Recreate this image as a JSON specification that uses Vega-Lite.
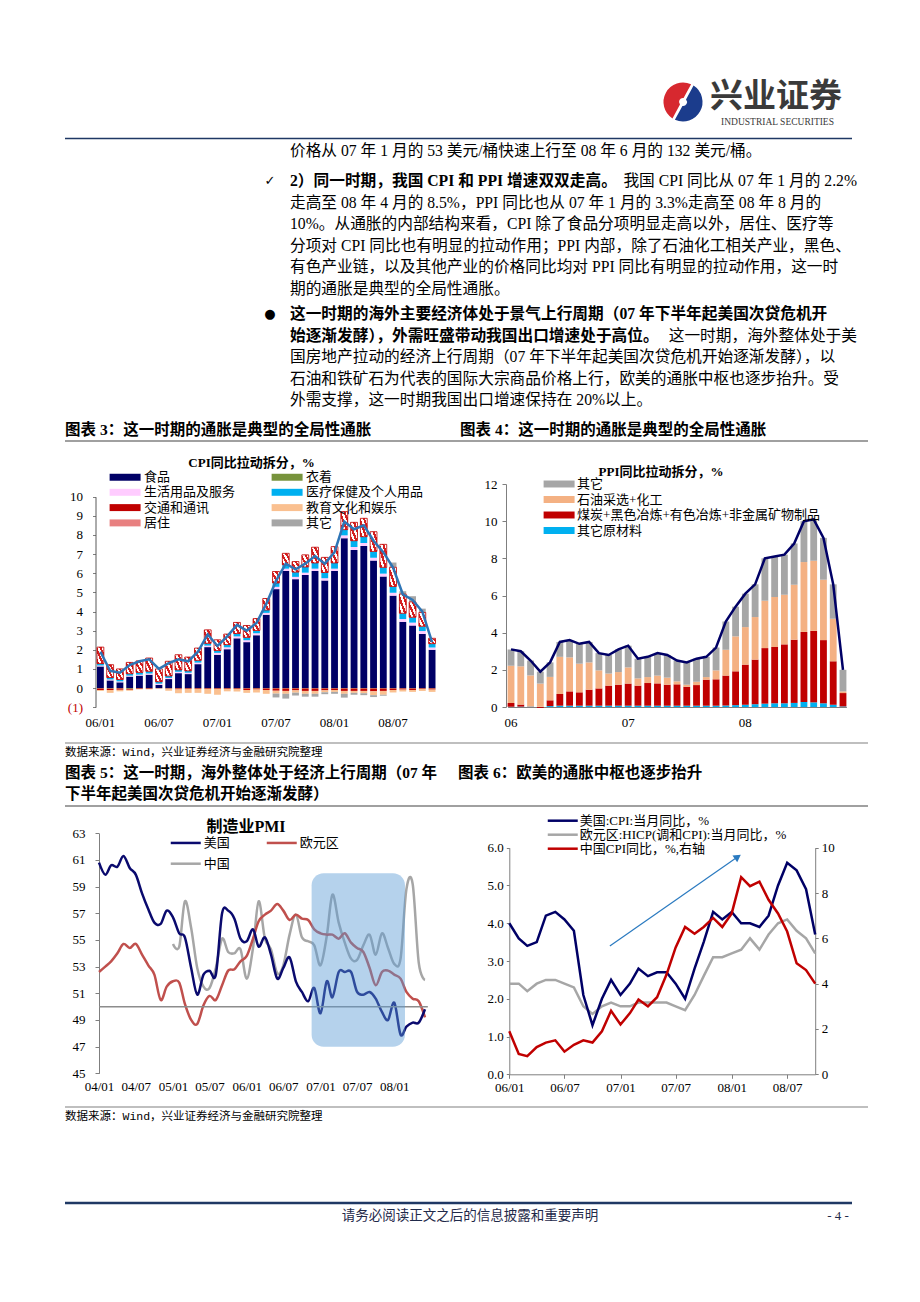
{
"$schema":"https://vega.github.io/schema/vega-lite/v6.json",
"width":920,"height":1302,"padding":0,"autosize":{"type":"none"},"background":"#ffffff",
"config":{"view":{"stroke":null},"font":"Liberation Serif, Noto Sans CJK SC",
"axis":{"grid":false,"title":null,"labelFont":"Liberation Serif, Noto Sans CJK SC","labelFontSize":13,"labelColor":"#000000","domainColor":"#7F7F7F","tickColor":"#7F7F7F","labelFlush":false,"labelOverlap":false},
"legend":{"padding":0,"labelFont":"Liberation Serif, Noto Sans CJK SC","labelFontSize":13,"labelColor":"#000000","labelLimit":400}},
"layer":[
{"data":{"values":[{}]},
"layer":[
{"mark":{"type":"rule","stroke":"#1F3864","strokeWidth":1.5},"encoding":{"x":{"value":65},"x2":{"value":852},"y":{"value":138.5}}},
{"mark":{"type":"rule","stroke":"#808080","strokeWidth":1.5},"encoding":{"x":{"value":65},"x2":{"value":868},"y":{"value":441}}},
{"mark":{"type":"rule","stroke":"#808080","strokeWidth":1.2},"encoding":{"x":{"value":65},"x2":{"value":868},"y":{"value":743}}},
{"mark":{"type":"rule","stroke":"#808080","strokeWidth":1.5},"encoding":{"x":{"value":65},"x2":{"value":868},"y":{"value":806}}},
{"mark":{"type":"rule","stroke":"#808080","strokeWidth":1.2},"encoding":{"x":{"value":65},"x2":{"value":868},"y":{"value":1107}}},
{"mark":{"type":"rule","stroke":"#1F3864","strokeWidth":2.5},"encoding":{"x":{"value":65},"x2":{"value":852},"y":{"value":1203}}},
{"mark":{"type":"text","align":"center","baseline":"middle","fontSize":33,"fontWeight":"bold","font":"Noto Sans CJK SC","fill":"#3A3A3A","text":"兴业证券"},"encoding":{"x":{"value":776},"y":{"value":97}}},
{"mark":{"type":"text","align":"center","baseline":"middle","fontSize":9.5,"font":"Liberation Serif","fill":"#3A3A3A","text":"INDUSTRIAL SECURITIES"},"encoding":{"x":{"value":777.5},"y":{"value":122}}},
{"mark":{"type":"text","align":"left","baseline":"middle","fontSize":15.5,"fontWeight":"bold","text":"图表 3：这一时期的通胀是典型的全局性通胀"},"encoding":{"x":{"value":65},"y":{"value":430}}},
{"mark":{"type":"text","align":"left","baseline":"middle","fontSize":15.5,"fontWeight":"bold","text":"图表 4：这一时期的通胀是典型的全局性通胀"},"encoding":{"x":{"value":460},"y":{"value":430}}},
{"mark":{"type":"text","align":"left","baseline":"middle","fontSize":11.5,"font":"Liberation Mono, Noto Sans CJK SC","text":"数据来源：Wind，兴业证券经济与金融研究院整理"},"encoding":{"x":{"value":65},"y":{"value":753}}},
{"mark":{"type":"text","align":"left","baseline":"middle","fontSize":15.5,"fontWeight":"bold","text":"图表 5：这一时期，海外整体处于经济上行周期（07 年"},"encoding":{"x":{"value":65},"y":{"value":773}}},
{"mark":{"type":"text","align":"left","baseline":"middle","fontSize":15.5,"fontWeight":"bold","text":"图表 6：欧美的通胀中枢也逐步抬升"},"encoding":{"x":{"value":458},"y":{"value":773}}},
{"mark":{"type":"text","align":"left","baseline":"middle","fontSize":15.5,"fontWeight":"bold","text":"下半年起美国次贷危机开始逐渐发酵）"},"encoding":{"x":{"value":65},"y":{"value":794}}},
{"mark":{"type":"text","align":"left","baseline":"middle","fontSize":11.5,"font":"Liberation Mono, Noto Sans CJK SC","text":"数据来源：Wind，兴业证券经济与金融研究院整理"},"encoding":{"x":{"value":65},"y":{"value":1117}}},
{"mark":{"type":"text","align":"center","baseline":"middle","fontSize":13.5,"fill":"#1F2A4A","font":"Noto Sans CJK SC","text":"请务必阅读正文之后的信息披露和重要声明"},"encoding":{"x":{"value":470},"y":{"value":1216}}},
{"mark":{"type":"text","align":"center","baseline":"middle","fontSize":13,"fill":"#1F2A4A","text":"- 4 -"},"encoding":{"x":{"value":838},"y":{"value":1216}}},
{"mark":{"type":"text","align":"center","baseline":"middle","fontSize":13,"fontWeight":"bold","text":"CPI同比拉动拆分，%"},"encoding":{"x":{"value":251.5},"y":{"value":462.5}}},
{"mark":{"type":"text","align":"center","baseline":"middle","fontSize":13,"fontWeight":"bold","text":"PPI同比拉动拆分，%"},"encoding":{"x":{"value":661},"y":{"value":472}}},
{"mark":{"type":"text","align":"center","baseline":"middle","fontSize":16,"fontWeight":"bold","text":"制造业PMI"},"encoding":{"x":{"value":246},"y":{"value":827}}}
]},
{"data":{"values":[{"p":"b","v":1},{"p":"r","v":1}]},
"mark":{"type":"arc","outerRadius":19.5,"innerRadius":4,"padAngle":0.14},
"encoding":{"theta":{"field":"v","type":"quantitative","stack":true,"scale":{"range":[0.5,6.783]}},"color":{"field":"p","type":"nominal","scale":{"domain":["b","r"],"range":["#1B3C8C","#D7282F"]},"legend":null},"order":{"field":"p"},"x":{"value":683},"y":{"value":102}}},
{"data":{"values":[
{"line":0,"seg":"r","t":"价格从 07 年 1 月的 53 美元/桶快速上行至 08 年 6 月的 132 美元/桶。"},
{"line":1.4,"seg":"m","t":"✓"},
{"line":1.4,"seg":"b","t":"2）同一时期，我国 CPI 和 PPI 增速双双走高。"},
{"line":1.4,"seg":"e","t":"我国 CPI 同比从 07 年 1 月的 2.2%"},
{"line":2.4,"seg":"r","t":"走高至 08 年 4 月的 8.5%，PPI 同比也从 07 年 1 月的 3.3%走高至 08 年 8 月的"},
{"line":3.4,"seg":"r","t":"10%。从通胀的内部结构来看，CPI 除了食品分项明显走高以外，居住、医疗等"},
{"line":4.4,"seg":"r","t":"分项对 CPI 同比也有明显的拉动作用；PPI 内部，除了石油化工相关产业，黑色、"},
{"line":5.4,"seg":"r","t":"有色产业链，以及其他产业的价格同比均对 PPI 同比有明显的拉动作用，这一时"},
{"line":6.4,"seg":"r","t":"期的通胀是典型的全局性通胀。"},
{"line":7.6,"seg":"m","t":"●"},
{"line":7.6,"seg":"b","t":"这一时期的海外主要经济体处于景气上行周期（07 年下半年起美国次贷危机开"},
{"line":8.6,"seg":"b","t":"始逐渐发酵），外需旺盛带动我国出口增速处于高位。"},
{"line":8.6,"seg":"e","t":"这一时期，海外整体处于美"},
{"line":9.6,"seg":"r","t":"国房地产拉动的经济上行周期（07 年下半年起美国次贷危机开始逐渐发酵），以"},
{"line":10.6,"seg":"r","t":"石油和铁矿石为代表的国际大宗商品价格上行，欧美的通胀中枢也逐步抬升。受"},
{"line":11.6,"seg":"r","t":"外需支撑，这一时期我国出口增速保持在 20%以上。"}
]},
"encoding":{"y":{"field":"line","type":"quantitative","scale":{"domain":[0,11.6],"range":[151,400.4],"nice":false,"zero":false},"axis":null},"text":{"field":"t","type":"nominal"}},
"layer":[
{"transform":[{"filter":"datum.seg === 'r'"}],"mark":{"type":"text","align":"left","baseline":"middle","fontSize":15.7},"encoding":{"x":{"value":290}}},
{"transform":[{"filter":"datum.seg === 'b'"}],"mark":{"type":"text","align":"left","baseline":"middle","fontSize":15.7,"fontWeight":"bold"},"encoding":{"x":{"value":290}}},
{"transform":[{"filter":"datum.seg === 'e'"}],"mark":{"type":"text","align":"right","baseline":"middle","fontSize":15.7},"encoding":{"x":{"value":857}}},
{"transform":[{"filter":"datum.seg === 'm'"}],"mark":{"type":"text","align":"center","baseline":"middle","fontSize":13,"font":"DejaVu Sans"},"encoding":{"x":{"value":270}}}
]},
{"data":{"values":[
{"m":"06/01","cpi":1.9,"f":1.13,"c":-0.02,"h":0.05,"md":0.10,"t":-0.08,"e":-0.05,"r":0.86,"o":0},
{"m":"06/02","cpi":0.9,"f":0.40,"c":-0.03,"h":0.05,"md":0.10,"t":-0.07,"e":-0.15,"r":0.67,"o":0},
{"m":"06/03","cpi":0.8,"f":0.30,"c":-0.02,"h":0.05,"md":0.10,"t":-0.07,"e":-0.08,"r":0.55,"o":0},
{"m":"06/04","cpi":1.2,"f":0.60,"c":-0.04,"h":0.05,"md":0.10,"t":-0.05,"e":-0.05,"r":0.59,"o":0},
{"m":"06/05","cpi":1.4,"f":0.65,"c":-0.02,"h":0.05,"md":0.12,"t":-0.03,"e":-0.02,"r":0.60,"o":0},
{"m":"06/06","cpi":1.5,"f":0.70,"c":-0.02,"h":0.06,"md":0.12,"t":-0.03,"e":-0.02,"r":0.69,"o":0},
{"m":"06/07","cpi":1.0,"f":0.17,"c":-0.01,"h":0.06,"md":0.10,"t":-0.01,"e":-0.01,"r":0.67,"o":0},
{"m":"06/08","cpi":1.3,"f":0.47,"c":-0.02,"h":0.06,"md":0.10,"t":-0.02,"e":-0.10,"r":0.77,"o":0},
{"m":"06/09","cpi":1.5,"f":0.78,"c":-0.02,"h":0.07,"md":0.10,"t":-0.05,"e":-0.20,"r":0.79,"o":0},
{"m":"06/10","cpi":1.4,"f":0.73,"c":-0.02,"h":0.07,"md":0.10,"t":-0.03,"e":-0.20,"r":0.72,"o":0},
{"m":"06/11","cpi":1.9,"f":1.25,"c":-0.02,"h":0.08,"md":0.12,"t":-0.03,"e":-0.20,"r":0.64,"o":0},
{"m":"06/12","cpi":2.8,"f":2.14,"c":-0.02,"h":0.08,"md":0.12,"t":-0.03,"e":-0.25,"r":0.70,"o":0},
{"m":"07/01","cpi":2.2,"f":1.74,"c":-0.02,"h":0.10,"md":0.12,"t":-0.03,"e":-0.30,"r":0.56,"o":0},
{"m":"07/02","cpi":2.7,"f":2.03,"c":-0.02,"h":0.10,"md":0.14,"t":-0.03,"e":-0.12,"r":0.55,"o":0},
{"m":"07/03","cpi":3.3,"f":2.60,"c":-0.02,"h":0.10,"md":0.15,"t":-0.03,"e":-0.13,"r":0.58,"o":0},
{"m":"07/04","cpi":3.0,"f":2.40,"c":-0.02,"h":0.10,"md":0.15,"t":-0.08,"e":-0.15,"r":0.62,"o":0},
{"m":"07/05","cpi":3.4,"f":2.76,"c":-0.02,"h":0.10,"md":0.15,"t":-0.06,"e":-0.15,"r":0.62,"o":0},
{"m":"07/06","cpi":4.4,"f":3.83,"c":-0.02,"h":0.10,"md":0.15,"t":-0.08,"e":-0.20,"r":0.60,"o":0},
{"m":"07/07","cpi":5.6,"f":5.17,"c":-0.02,"h":0.12,"md":0.20,"t":-0.12,"e":-0.15,"r":0.60,"o":-0.20},
{"m":"07/08","cpi":6.5,"f":6.12,"c":-0.02,"h":0.12,"md":0.20,"t":-0.13,"e":-0.15,"r":0.60,"o":-0.25},
{"m":"07/09","cpi":6.2,"f":5.69,"c":-0.02,"h":0.12,"md":0.25,"t":-0.10,"e":-0.12,"r":0.55,"o":-0.15},
{"m":"07/10","cpi":6.5,"f":5.91,"c":-0.02,"h":0.12,"md":0.30,"t":-0.13,"e":-0.15,"r":0.63,"o":-0.15},
{"m":"07/11","cpi":6.9,"f":6.12,"c":-0.02,"h":0.12,"md":0.30,"t":-0.13,"e":-0.15,"r":0.82,"o":-0.15},
{"m":"07/12","cpi":6.5,"f":5.62,"c":-0.02,"h":0.12,"md":0.30,"t":-0.10,"e":-0.10,"r":0.79,"o":-0.10},
{"m":"08/01","cpi":7.1,"f":6.12,"c":-0.02,"h":0.12,"md":0.30,"t":-0.08,"e":-0.10,"r":0.85,"o":-0.10},
{"m":"08/02","cpi":8.7,"f":7.83,"c":-0.02,"h":0.15,"md":0.30,"t":-0.13,"e":-0.15,"r":0.94,"o":-0.20},
{"m":"08/03","cpi":8.3,"f":7.22,"c":-0.02,"h":0.15,"md":0.33,"t":-0.13,"e":-0.10,"r":0.96,"o":-0.10},
{"m":"08/04","cpi":8.5,"f":7.43,"c":-0.02,"h":0.15,"md":0.33,"t":-0.13,"e":-0.12,"r":0.96,"o":-0.10},
{"m":"08/05","cpi":7.7,"f":6.66,"c":-0.02,"h":0.15,"md":0.33,"t":-0.15,"e":-0.20,"r":1.03,"o":-0.10},
{"m":"08/06","cpi":7.1,"f":5.83,"c":-0.02,"h":0.15,"md":0.33,"t":-0.13,"e":-0.20,"r":1.20,"o":-0.05},
{"m":"08/07","cpi":6.3,"f":4.83,"c":-0.02,"h":0.15,"md":0.33,"t":-0.08,"e":-0.13,"r":1.00,"o":0.25},
{"m":"08/08","cpi":4.9,"f":3.46,"c":-0.02,"h":0.15,"md":0.30,"t":-0.06,"e":-0.10,"r":1.00,"o":0.15},
{"m":"08/09","cpi":4.6,"f":3.27,"c":-0.02,"h":0.15,"md":0.28,"t":-0.08,"e":-0.10,"r":0.80,"o":0.30},
{"m":"08/10","cpi":4.0,"f":2.83,"c":-0.02,"h":0.15,"md":0.25,"t":-0.03,"e":-0.10,"r":0.72,"o":0.20},
{"m":"08/11","cpi":2.4,"f":2.00,"c":-0.02,"h":0.12,"md":0.20,"t":-0.06,"e":-0.12,"r":0.28,"o":0}
]},
"transform":[{"fold":["f","c","h","md","t","e","r","o"],"as":["key","v"]},
{"lookup":"key","from":{"data":{"values":[{"key":"f","cat":"食品","k":0},{"key":"c","cat":"衣着","k":1},{"key":"h","cat":"生活用品及服务","k":2},{"key":"md","cat":"医疗保健及个人用品","k":3},{"key":"t","cat":"交通和通讯","k":4},{"key":"e","cat":"教育文化和娱乐","k":5},{"key":"r","cat":"居住","k":6},{"key":"o","cat":"其它","k":7}]},"key":"key","fields":["cat","k"]}},
{"stack":"v","groupby":["m"],"sort":[{"field":"k","order":"ascending"}],"as":["y0","y1"],"offset":"zero"}],
"layer":[
{"mark":{"type":"bar"},
"encoding":{
"x":{"field":"m","type":"ordinal","scale":{"range":[97,435.5],"paddingInner":0.3,"paddingOuter":0},"axis":{"orient":"bottom","offset":-594.8,"domain":false,"ticks":false,"labelPadding":9,"labelAngle":0,"values":["06/01","06/07","07/01","07/07","08/01","08/07"]}},
"y":{"field":"y0","type":"quantitative","scale":{"domain":[-1,10],"range":[707.2,496.7],"nice":false,"zero":false},"axis":{"orient":"left","offset":-95.5,"values":[-1,0,1,2,3,4,5,6,7,8,9,10],"format":"d","labelExpr":"datum.value < 0 ? '(' + (-datum.value) + ')' : datum.label","labelColor":{"condition":{"test":"datum.value < 0","value":"#C00000"},"value":"#000000"},"tickSize":3,"labelPadding":10,"domainColor":"#595959"}},
"y2":{"field":"y1"},
"color":{"field":"cat","type":"nominal","scale":{"domain":["食品","衣着","生活用品及服务","医疗保健及个人用品","交通和通讯","教育文化和娱乐","居住","其它"],
"range":["#000066","#77933C","#FFCCFF","#00B0F0","#C00000","#FAC090","#E88080","#A6A6A6"]},
"legend":{"orient":"none","direction":"horizontal","legendX":118.6,"legendY":470.5,"columns":2,"columnPadding":36,"rowPadding":1.3,"symbolType":"M-4,-0.9H4V0.9H-4Z","symbolSize":60,"labelOffset":12.5,"title":null}}}},
{"transform":[{"filter":"datum.key === 'r'"}],
"mark":{"type":"bar","stroke":"#C00000","strokeWidth":0.8,
"fill":{"gradient":"linear","x1":0,"y1":1,"x2":1,"y2":0,"stops":[{"offset":0,"color":"#D42020"},{"offset":0.17,"color":"#D42020"},{"offset":0.17,"color":"#FFFFFF"},{"offset":0.33,"color":"#FFFFFF"},{"offset":0.33,"color":"#D42020"},{"offset":0.5,"color":"#D42020"},{"offset":0.5,"color":"#FFFFFF"},{"offset":0.67,"color":"#FFFFFF"},{"offset":0.67,"color":"#D42020"},{"offset":0.83,"color":"#D42020"},{"offset":0.83,"color":"#FFFFFF"},{"offset":1,"color":"#FFFFFF"}]}},
"encoding":{"x":{"field":"m","type":"ordinal"},"y":{"field":"y0","type":"quantitative"},"y2":{"field":"y1"}}},
{"transform":[{"filter":"datum.key === 'f'"}],
"mark":{"type":"line","color":"#2E75B6","strokeWidth":2.5},
"encoding":{"x":{"field":"m","type":"ordinal"},"y":{"field":"cpi","type":"quantitative"}}}
]},
{"data":{"values":[
{"m":"06/01","ppi":3.1,"c":0.02,"r":0.20,"s":2.00,"o":0.88},
{"m":"06/02","ppi":3.0,"c":0.02,"r":0.11,"s":2.06,"o":0.81},
{"m":"06/03","ppi":2.5,"c":0.02,"r":0.01,"s":1.67,"o":0.80},
{"m":"06/04","ppi":1.9,"c":0.01,"r":-0.05,"s":1.25,"o":0.64},
{"m":"06/05","ppi":2.4,"c":0.05,"r":0.31,"s":1.26,"o":0.78},
{"m":"06/06","ppi":3.5,"c":0.07,"r":0.63,"s":2.00,"o":0.80},
{"m":"06/07","ppi":3.6,"c":0.07,"r":0.77,"s":1.83,"o":0.93},
{"m":"06/08","ppi":3.4,"c":0.07,"r":0.72,"s":1.54,"o":1.07},
{"m":"06/09","ppi":3.5,"c":0.07,"r":0.86,"s":1.47,"o":1.10},
{"m":"06/10","ppi":2.9,"c":0.07,"r":0.93,"s":0.97,"o":0.93},
{"m":"06/11","ppi":2.8,"c":0.07,"r":1.08,"s":0.65,"o":1.00},
{"m":"06/12","ppi":3.1,"c":0.07,"r":1.13,"s":0.68,"o":1.22},
{"m":"07/01","ppi":3.3,"c":0.07,"r":1.19,"s":0.87,"o":1.17},
{"m":"07/02","ppi":2.6,"c":0.07,"r":1.08,"s":0.39,"o":1.06},
{"m":"07/03","ppi":2.7,"c":0.07,"r":1.22,"s":0.32,"o":1.09},
{"m":"07/04","ppi":2.9,"c":0.07,"r":1.20,"s":0.42,"o":1.21},
{"m":"07/05","ppi":2.8,"c":0.07,"r":1.13,"s":0.38,"o":1.22},
{"m":"07/06","ppi":2.5,"c":0.07,"r":1.15,"s":0.16,"o":1.12},
{"m":"07/07","ppi":2.4,"c":0.07,"r":1.02,"s":0.11,"o":1.20},
{"m":"07/08","ppi":2.6,"c":0.07,"r":1.11,"s":0.18,"o":1.24},
{"m":"07/09","ppi":2.7,"c":0.07,"r":1.40,"s":0.14,"o":1.09},
{"m":"07/10","ppi":3.2,"c":0.07,"r":1.42,"s":0.48,"o":1.23},
{"m":"07/11","ppi":4.6,"c":0.08,"r":1.61,"s":1.39,"o":1.52},
{"m":"07/12","ppi":5.4,"c":0.10,"r":1.82,"s":1.88,"o":1.60},
{"m":"08/01","ppi":6.1,"c":0.12,"r":2.16,"s":2.02,"o":1.80},
{"m":"08/02","ppi":6.6,"c":0.15,"r":2.40,"s":2.29,"o":1.76},
{"m":"08/03","ppi":8.0,"c":0.18,"r":2.99,"s":2.55,"o":2.28},
{"m":"08/04","ppi":8.1,"c":0.20,"r":3.03,"s":2.69,"o":2.18},
{"m":"08/05","ppi":8.2,"c":0.20,"r":3.17,"s":2.67,"o":2.16},
{"m":"08/06","ppi":8.8,"c":0.22,"r":3.40,"s":2.96,"o":2.22},
{"m":"08/07","ppi":10.0,"c":0.27,"r":3.77,"s":3.76,"o":2.20},
{"m":"08/08","ppi":10.1,"c":0.25,"r":3.85,"s":3.77,"o":2.23},
{"m":"08/09","ppi":9.1,"c":0.20,"r":3.40,"s":3.25,"o":2.25},
{"m":"08/10","ppi":6.6,"c":0.12,"r":2.34,"s":2.29,"o":1.85},
{"m":"08/11","ppi":2.0,"c":0.03,"r":0.72,"s":0.09,"o":1.16}
]},
"layer":[
{"transform":[{"fold":["c","r","s","o"],"as":["key","v"]},
{"lookup":"key","from":{"data":{"values":[{"key":"c","cat":"其它原材料","k":0},{"key":"r","cat":"煤炭+黑色冶炼+有色冶炼+非金属矿物制品","k":1},{"key":"s","cat":"石油采选+化工","k":2},{"key":"o","cat":"其它","k":3}]},"key":"key","fields":["cat","k"]}}],
"mark":{"type":"bar"},
"encoding":{
"x":{"field":"m","type":"ordinal","scale":{"range":[507.6,846.4],"paddingInner":0.3,"paddingOuter":0},"axis":{"orient":"bottom","offset":-595,"domain":true,"ticks":false,"labelPadding":9,"labelAngle":0,"values":["06/01","07/01","08/01"],"labelExpr":"substring(datum.value, 0, 2)"}},
"y":{"field":"v","type":"quantitative","stack":"zero","scale":{"domain":[0,12],"range":[707,484],"nice":false,"zero":false},"axis":{"orient":"left","offset":-506,"values":[0,2,4,6,8,10,12],"format":"d","tickSize":4,"labelPadding":5}},
"color":{"field":"cat","type":"nominal","scale":{"domain":["其它","石油采选+化工","煤炭+黑色冶炼+有色冶炼+非金属矿物制品","其它原材料"],"range":["#A6A6A6","#F4B183","#C00000","#00B0F0"]},
"legend":{"orient":"none","legendX":552.6,"legendY":477.5,"rowPadding":1.5,"symbolType":"M-4,-0.9H4V0.9H-4Z","symbolSize":60,"labelOffset":11.5,"title":null}},
"order":{"field":"k","type":"quantitative","sort":"ascending"}}},
{"mark":{"type":"line","color":"#000066","strokeWidth":2.5},
"encoding":{"x":{"field":"m","type":"ordinal"},"y":{"field":"ppi","type":"quantitative"}}}
]},
{"data":{"values":[
{"d":"2004-01-01","美国":60.8,"欧元区":52.6,"中国":null},
{"d":"2004-02-01","美国":59.9,"欧元区":53.0,"中国":null},
{"d":"2004-03-01","美国":60.6,"欧元区":53.4,"中国":null},
{"d":"2004-04-01","美国":60.5,"欧元区":54.0,"中国":null},
{"d":"2004-05-01","美国":61.3,"欧元区":54.7,"中国":null},
{"d":"2004-06-01","美国":60.4,"欧元区":54.4,"中国":null},
{"d":"2004-07-01","美国":59.9,"欧元区":54.7,"中国":null},
{"d":"2004-08-01","美国":58.5,"欧元区":53.9,"中国":null},
{"d":"2004-09-01","美国":57.3,"欧元区":53.1,"中国":null},
{"d":"2004-10-01","美国":56.3,"欧元区":52.4,"中国":null},
{"d":"2004-11-01","美国":56.2,"欧元区":50.5,"中国":null},
{"d":"2004-12-01","美国":57.2,"欧元区":51.5,"中国":null},
{"d":"2005-01-01","美国":56.7,"欧元区":51.9,"中国":54.7},
{"d":"2005-02-01","美国":55.5,"欧元区":51.8,"中国":54.5},
{"d":"2005-03-01","美国":55.2,"欧元区":50.2,"中国":57.9},
{"d":"2005-04-01","美国":52.9,"欧元区":49.0,"中国":55.9},
{"d":"2005-05-01","美国":50.9,"欧元区":48.7,"中国":52.9},
{"d":"2005-06-01","美国":52.4,"欧元区":50.1,"中国":51.5},
{"d":"2005-07-01","美国":52.7,"欧元区":50.8,"中国":51.4},
{"d":"2005-08-01","美国":52.4,"欧元区":50.5,"中国":52.9},
{"d":"2005-09-01","美国":57.0,"欧元区":51.6,"中国":55.1},
{"d":"2005-10-01","美国":57.2,"欧元区":52.7,"中国":54.1},
{"d":"2005-11-01","美国":56.6,"欧元区":52.8,"中国":54.0},
{"d":"2005-12-01","美国":55.1,"欧元区":53.4,"中国":54.3},
{"d":"2006-01-01","美国":54.9,"欧元区":53.8,"中国":52.1},
{"d":"2006-02-01","美国":55.8,"欧元区":55.1,"中国":54.4},
{"d":"2006-03-01","美国":54.5,"欧元区":56.4,"中国":57.9},
{"d":"2006-04-01","美国":55.2,"欧元区":56.9,"中国":55.1},
{"d":"2006-05-01","美国":53.9,"欧元区":57.2,"中国":54.3},
{"d":"2006-06-01","美国":52.1,"欧元区":57.7,"中国":52.5},
{"d":"2006-07-01","美国":52.9,"欧元区":57.2,"中国":53.1},
{"d":"2006-08-01","美国":53.7,"欧元区":56.5,"中国":55.4},
{"d":"2006-09-01","美国":51.9,"欧元区":56.9,"中国":56.9},
{"d":"2006-10-01","美国":51.1,"欧元区":56.6,"中国":55.2},
{"d":"2006-11-01","美国":50.4,"欧元区":56.5,"中国":54.9},
{"d":"2006-12-01","美国":51.4,"欧元区":55.8,"中国":54.6},
{"d":"2007-01-01","美国":49.5,"欧元区":55.5,"中国":53.1},
{"d":"2007-02-01","美国":51.9,"欧元区":55.4,"中国":55.3},
{"d":"2007-03-01","美国":50.7,"欧元区":55.4,"中国":58.4},
{"d":"2007-04-01","美国":52.6,"欧元区":55.1,"中国":56.3},
{"d":"2007-05-01","美国":52.6,"欧元区":55.5,"中国":54.8},
{"d":"2007-06-01","美国":52.6,"欧元区":54.8,"中国":53.6},
{"d":"2007-07-01","美国":51.1,"欧元区":54.4,"中国":53.5},
{"d":"2007-08-01","美国":50.9,"欧元区":54.1,"中国":54.6},
{"d":"2007-09-01","美国":51.1,"欧元区":52.9,"中国":55.4},
{"d":"2007-10-01","美国":50.6,"欧元区":51.6,"中国":53.9},
{"d":"2007-11-01","美国":49.6,"欧元区":52.6,"中国":55.5},
{"d":"2007-12-01","美国":49.0,"欧元区":52.7,"中国":54.4},
{"d":"2008-01-01","美国":50.3,"欧元区":52.4,"中国":53.2},
{"d":"2008-02-01","美国":47.9,"欧元区":52.1,"中国":53.6},
{"d":"2008-03-01","美国":48.5,"欧元区":51.1,"中国":58.8},
{"d":"2008-04-01","美国":48.8,"欧元区":50.6,"中国":59.2},
{"d":"2008-05-01","美国":48.8,"欧元区":50.4,"中国":53.3},
{"d":"2008-06-01","美国":49.8,"欧元区":49.2,"中国":52.0}
]},
"layer":[
{"transform":[{"fold":["中国","欧元区","美国"],"as":["s","v"]}],
"mark":{"type":"line","strokeWidth":2.5,"interpolate":"cardinal"},
"encoding":{
"x":{"field":"d","type":"temporal","scale":{"type":"utc","domain":[{"year":2004,"month":1,"date":1,"utc":true},{"year":2008,"month":6,"date":1,"utc":true}],"range":[99,425]},
"axis":{"orient":"bottom","offset":-228.7,"domain":false,"ticks":false,"labelPadding":7,"format":"%y/%m","values":[{"year":2004,"month":1,"date":1,"utc":true},{"year":2004,"month":7,"date":1,"utc":true},{"year":2005,"month":1,"date":1,"utc":true},{"year":2005,"month":7,"date":1,"utc":true},{"year":2006,"month":1,"date":1,"utc":true},{"year":2006,"month":7,"date":1,"utc":true},{"year":2007,"month":1,"date":1,"utc":true},{"year":2007,"month":7,"date":1,"utc":true},{"year":2008,"month":1,"date":1,"utc":true}]}},
"y":{"field":"v","type":"quantitative","scale":{"domain":[45,63],"range":[1073.3,833.3],"nice":false,"zero":false},"axis":{"orient":"left","offset":-99,"values":[45,47,49,51,53,55,57,59,61,63],"format":"d","tickSize":4,"labelPadding":10}},
"color":{"field":"s","type":"nominal","scale":{"domain":["美国","欧元区","中国"],"range":["#0A0A6E","#C0504D","#A6A6A6"]},
"legend":{"orient":"none","direction":"horizontal","legendX":179.25,"legendY":836.2,"columns":2,"columnPadding":31,"rowPadding":7,"symbolType":"M-4,0H4","symbolSize":56.25,"symbolStrokeWidth":2.5,"labelOffset":11.5,"title":null}}}},
{"data":{"values":[{"a":"2004-01-01","b":"2008-06-15","y":50}]},
"mark":{"type":"rule","color":"#8C8C8C","strokeWidth":1.5},
"encoding":{"x":{"field":"a","type":"temporal"},"x2":{"field":"b"},"y":{"field":"y","type":"quantitative"}}},
{"data":{"values":[{"a":"2006-11-18","b":"2008-02-23","y0":47,"y1":60}]},
"mark":{"type":"rect","fill":"#5B9BD5","opacity":0.45,"cornerRadius":12},
"encoding":{"x":{"field":"a","type":"temporal"},"x2":{"field":"b"},"y":{"field":"y0","type":"quantitative"},"y2":{"field":"y1"}}}
]},
{"data":{"values":[
{"d":"2006-01-01","us":4.0,"eu":2.4,"cn":1.9},
{"d":"2006-02-01","us":3.6,"eu":2.4,"cn":0.9},
{"d":"2006-03-01","us":3.4,"eu":2.2,"cn":0.8},
{"d":"2006-04-01","us":3.5,"eu":2.4,"cn":1.2},
{"d":"2006-05-01","us":4.2,"eu":2.5,"cn":1.4},
{"d":"2006-06-01","us":4.3,"eu":2.5,"cn":1.5},
{"d":"2006-07-01","us":4.1,"eu":2.4,"cn":1.0},
{"d":"2006-08-01","us":3.8,"eu":2.3,"cn":1.3},
{"d":"2006-09-01","us":2.1,"eu":1.8,"cn":1.5},
{"d":"2006-10-01","us":1.3,"eu":1.6,"cn":1.4},
{"d":"2006-11-01","us":2.0,"eu":1.8,"cn":1.9},
{"d":"2006-12-01","us":2.5,"eu":1.9,"cn":2.8},
{"d":"2007-01-01","us":2.1,"eu":1.8,"cn":2.2},
{"d":"2007-02-01","us":2.4,"eu":1.8,"cn":2.7},
{"d":"2007-03-01","us":2.8,"eu":1.9,"cn":3.3},
{"d":"2007-04-01","us":2.6,"eu":1.9,"cn":3.0},
{"d":"2007-05-01","us":2.7,"eu":1.9,"cn":3.4},
{"d":"2007-06-01","us":2.7,"eu":1.9,"cn":4.4},
{"d":"2007-07-01","us":2.4,"eu":1.8,"cn":5.6},
{"d":"2007-08-01","us":2.0,"eu":1.7,"cn":6.5},
{"d":"2007-09-01","us":2.8,"eu":2.1,"cn":6.2},
{"d":"2007-10-01","us":3.5,"eu":2.6,"cn":6.5},
{"d":"2007-11-01","us":4.3,"eu":3.1,"cn":6.9},
{"d":"2007-12-01","us":4.1,"eu":3.1,"cn":6.5},
{"d":"2008-01-01","us":4.3,"eu":3.2,"cn":7.1},
{"d":"2008-02-01","us":4.0,"eu":3.3,"cn":8.7},
{"d":"2008-03-01","us":4.0,"eu":3.6,"cn":8.3},
{"d":"2008-04-01","us":3.9,"eu":3.3,"cn":8.5},
{"d":"2008-05-01","us":4.2,"eu":3.7,"cn":7.7},
{"d":"2008-06-01","us":5.0,"eu":4.0,"cn":7.1},
{"d":"2008-07-01","us":5.6,"eu":4.1,"cn":6.3},
{"d":"2008-08-01","us":5.4,"eu":3.8,"cn":4.9},
{"d":"2008-09-01","us":4.9,"eu":3.6,"cn":4.6},
{"d":"2008-10-01","us":3.7,"eu":3.2,"cn":4.0}
]},
"layer":[
{"layer":[
{"transform":[{"fold":["eu","us"],"as":["s","v"]}],
"mark":{"type":"line","strokeWidth":2.5},
"encoding":{
"x":{"field":"d","type":"temporal","scale":{"type":"utc","domain":[{"year":2006,"month":1,"date":1,"utc":true},{"year":2008,"month":10,"date":1,"utc":true}],"range":[509.3,815.2]},
"axis":{"orient":"bottom","offset":-227.7,"domain":true,"ticks":true,"tickSize":4,"labelPadding":3,"format":"%y/%m","values":[{"year":2006,"month":1,"date":1,"utc":true},{"year":2006,"month":7,"date":1,"utc":true},{"year":2007,"month":1,"date":1,"utc":true},{"year":2007,"month":7,"date":1,"utc":true},{"year":2008,"month":1,"date":1,"utc":true},{"year":2008,"month":7,"date":1,"utc":true}]}},
"y":{"field":"v","type":"quantitative","scale":{"domain":[0,6],"range":[1074.3,847.7],"nice":false,"zero":false},"axis":{"orient":"left","offset":-509.3,"values":[0,1,2,3,4,5,6],"format":".1f","tickSize":3,"labelPadding":3}},
"color":{"field":"s","type":"nominal","scale":{"domain":["us","eu","cn"],"range":["#000066","#A6A6A6","#C00000"]},
"legend":{"orient":"none","legendX":556.25,"legendY":814.2,"rowPadding":0,"symbolType":"M-4,0H4","symbolSize":56.25,"symbolStrokeWidth":2.5,"labelOffset":10.5,"title":null,
"labelExpr":"datum.label === 'us' ? '美国:CPI:当月同比，%' : (datum.label === 'eu' ? '欧元区:HICP(调和CPI):当月同比，%' : '中国CPI同比，%,右轴')"}}}},
{"data":{"values":[{"x0":"2006-11-27","y0":3.4,"x1":"2008-01-21","y1":5.76}]},
"mark":{"type":"rule","color":"#2A7AC0","strokeWidth":1.2},
"encoding":{"x":{"field":"x0","type":"temporal"},"x2":{"field":"x1"},"y":{"field":"y0","type":"quantitative"},"y2":{"field":"y1"}}},
{"data":{"values":[{"x0":"2006-11-27","y0":3.4,"x1":"2008-01-21","y1":5.76}]},
"mark":{"type":"point","shape":"triangle-right","angle":-34.8,"size":70,"filled":true,"color":"#2A7AC0","opacity":1},
"encoding":{"x":{"field":"x1","type":"temporal"},"y":{"field":"y1","type":"quantitative"}}}
]},
{"mark":{"type":"line","strokeWidth":2.5},
"encoding":{"x":{"field":"d","type":"temporal"},
"y":{"field":"cn","type":"quantitative","scale":{"domain":[0,10],"range":[1074.3,847.7],"nice":false,"zero":false},"axis":{"orient":"right","offset":-104.8,"values":[0,2,4,6,8,10],"format":"d","tickSize":3,"labelPadding":3}},
"color":{"datum":"cn"}}}
],
"resolve":{"scale":{"y":"independent"},"axis":{"y":"independent"}}}
],
"resolve":{"scale":{"x":"independent","y":"independent","color":"independent","theta":"independent"},"axis":{"x":"independent","y":"independent"},"legend":{"color":"independent"}}
}
